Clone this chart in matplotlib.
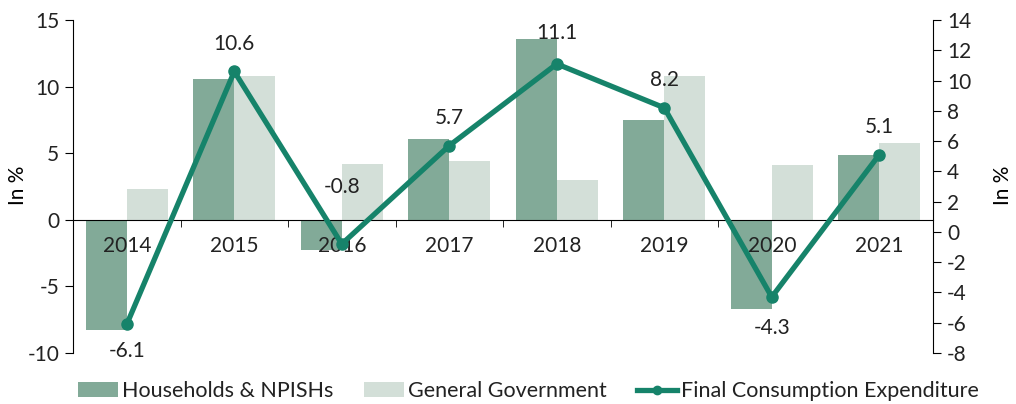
import numpy as np
import matplotlib
matplotlib.use("Agg")
import matplotlib.pyplot as plt
from matplotlib.patches import Patch
from matplotlib.lines import Line2D

years = ["2014", "2015", "2016", "2017", "2018", "2019", "2020", "2021"]
households = [-8.3, 10.6, -2.3, 6.1, 13.6, 7.5, -6.7, 4.9]
government = [2.3, 10.8, 4.2, 4.4, 3.0, 10.8, 4.1, 5.8]
final_consumption = [-6.1, 10.6, -0.8, 5.7, 11.1, 8.2, -4.3, 5.1]
# label offsets in points (above / below the marker)
label_offsets = [-19, 20, 41, 20, 22, 20, -22, 20]

c_hh = "#82aa98"
c_gg = "#d3dfd8"
c_line = "#16836a"
c_text = "#222222"
fs = 15

plt.rcParams["font.family"] = ["Lato", "DejaVu Sans"]
plt.rcParams["text.color"] = c_text
plt.rcParams["axes.unicode_minus"] = False

fig = plt.figure(figsize=(10.16, 4.04), dpi=100)
ax = fig.add_axes([0.0719, 0.1262, 0.8464, 0.8243])
ax2 = ax.twinx()

x = np.arange(len(years))
w = 0.38
ax.bar(x - w / 2, households, width=w, color=c_hh, zorder=2)
ax.bar(x + w / 2, government, width=w, color=c_gg, zorder=2)
ax.set_axisbelow(False)

ax.set_xlim(-0.5, len(years) - 0.5)
ax.set_ylim(-10, 15)
ax.set_yticks(range(-10, 16, 5))
ax.set_ylabel("In %", fontsize=fs, va="center", ha="center")
ax.yaxis.set_label_coords(-0.064, 0.505)

ax.spines["top"].set_visible(False)
ax.spines["right"].set_visible(False)
ax.spines["bottom"].set_position(("data", 0))
ax.spines["bottom"].set_zorder(3)
ax.set_xticks(x)
ax.set_xticklabels(years)
ax.set_xticks(x[:-1] + 0.5, minor=True)
ax.tick_params(axis="x", which="major", length=0, pad=12, labelsize=fs, labelcolor=c_text)
ax.tick_params(axis="x", which="minor", length=5, direction="out")
ax.tick_params(axis="y", length=6, labelsize=fs, labelcolor=c_text, pad=4)

ax2.plot(x, final_consumption, color=c_line, lw=3.8, marker="o", markersize=8, zorder=4)
ax2.set_ylim(-8, 14)
ax2.set_yticks(range(-8, 15, 2))
ax2.yaxis.set_label_position("right")
ax2.set_ylabel("In %", fontsize=fs, rotation=90, va="center", ha="center")
ax2.yaxis.set_label_coords(1.081, 0.505)
for s in ["top", "left", "bottom"]:
    ax2.spines[s].set_visible(False)
ax2.tick_params(axis="y", length=6, labelsize=fs, labelcolor=c_text, pad=4)

for xi, v, off in zip(x, final_consumption, label_offsets):
    ax2.annotate(f"{v:.1f}", (xi, v), xytext=(0, off), textcoords="offset points",
                 ha="center", va="center", fontsize=fs, color=c_text)

handles = [
    Patch(facecolor=c_hh, label="Households & NPISHs"),
    Patch(facecolor=c_gg, label="General Government"),
    Line2D([0], [0], color=c_line, lw=3.8, marker="o", markersize=6,
           label="Final Consumption Expenditure"),
]
fig.legend(handles=handles, loc="center", bbox_to_anchor=(0.52, 0.032), ncol=3,
           frameon=False, fontsize=15.5, handlelength=1.86, handletextpad=0.2,
           columnspacing=1.4)

fig.savefig("out.png", dpi=100)
